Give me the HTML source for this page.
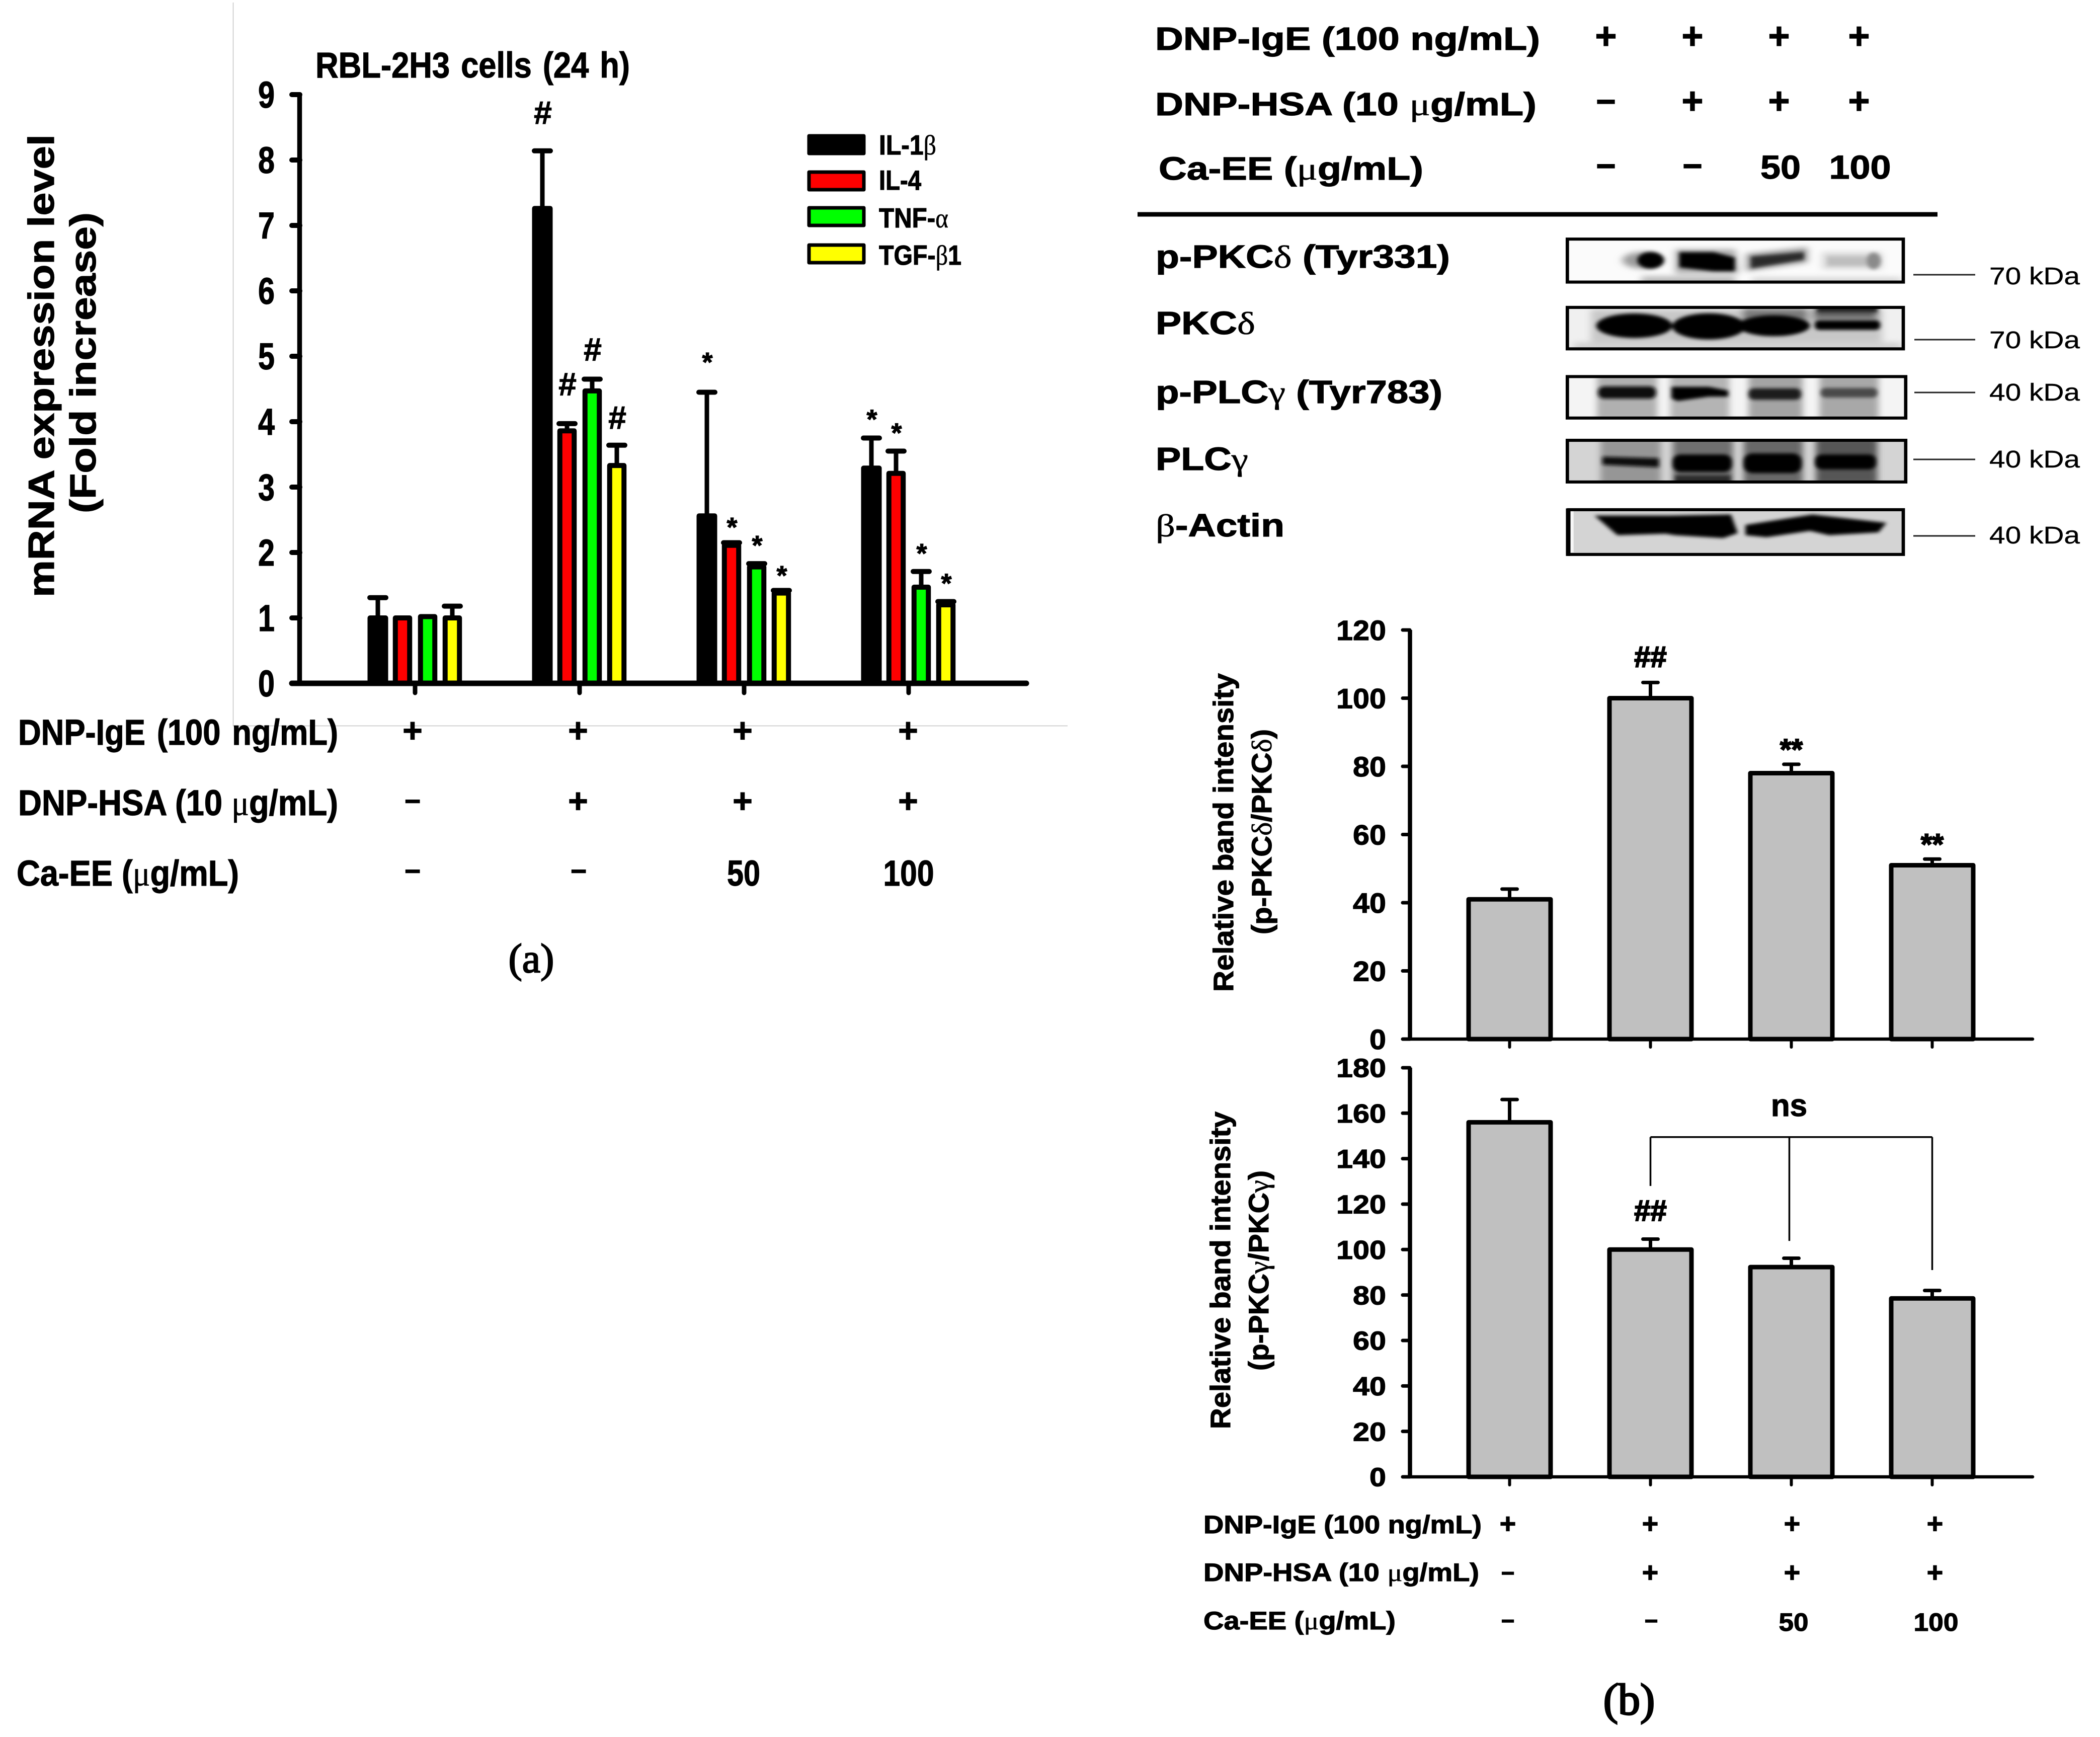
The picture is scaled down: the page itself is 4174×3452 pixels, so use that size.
<!DOCTYPE html>
<html lang="en">
<head>
<meta charset="utf-8">
<title>RBL-2H3 mRNA expression and western blot figure</title>
<style>
html,body{margin:0;padding:0;background:#fff;width:4174px;height:3452px;overflow:hidden}
svg{display:block}
text{font-family:"Liberation Sans",Arial,sans-serif;font-weight:700;fill:#000;stroke:#000;stroke-width:1.2}
.serif{font-family:"Liberation Serif",serif;font-weight:400;stroke-width:.6}
.caption{stroke-width:2.2}
.reg{font-weight:400;stroke-width:.4}
.mid{text-anchor:middle}
</style>
</head>
<body>
<svg id="figure" xmlns="http://www.w3.org/2000/svg" width="4174" height="3452" viewBox="0 0 4174 3452">
<defs>
<filter id="blur1" x="-15%" y="-40%" width="130%" height="180%"><feGaussianBlur stdDeviation="14 13"/></filter>
<filter id="blur2" x="-15%" y="-40%" width="130%" height="180%"><feGaussianBlur stdDeviation="9 8"/></filter>
<filter id="blur3" x="-15%" y="-40%" width="130%" height="180%"><feGaussianBlur stdDeviation="16 12"/></filter>
<clipPath id="clip1"><rect x="32" y="58" width="1396" height="197"/></clipPath>
<clipPath id="clip2"><rect x="32" y="371" width="1396" height="190"/></clipPath>
<clipPath id="clip3"><rect x="32" y="688" width="1406" height="190"/></clipPath>
<clipPath id="clip4"><rect x="32" y="980" width="1406" height="191"/></clipPath>
<clipPath id="clip5"><rect x="32" y="1298" width="1396" height="205"/></clipPath>
</defs>

<rect width="4174" height="3452" fill="#fff"/>
<path d="M463.5 5V1442.5H2122" fill="none" stroke="#c4c4c4" stroke-width="1.5"/>

<!-- Panel A static text -->
<g>
<text x="627" y="154" font-size="71" textLength="625" lengthAdjust="spacingAndGlyphs" style="word-spacing:5px">RBL-2H3 cells (24 h)</text>
<text transform="translate(107 1187) rotate(-90)" font-size="72" textLength="920" lengthAdjust="spacingAndGlyphs">mRNA expression level</text>
<text transform="translate(190 1020) rotate(-90)" font-size="72" textLength="598" lengthAdjust="spacingAndGlyphs">(Fold increase)</text>

<text x="1747" y="307" font-size="55" textLength="114" lengthAdjust="spacingAndGlyphs">IL-1<tspan class="serif">β</tspan></text>
<text x="1747" y="377" font-size="55" textLength="84" lengthAdjust="spacingAndGlyphs">IL-4</text>
<text x="1747" y="452" font-size="55" textLength="138" lengthAdjust="spacingAndGlyphs">TNF-<tspan class="serif">α</tspan></text>
<text x="1747" y="526" font-size="55" textLength="164" lengthAdjust="spacingAndGlyphs">TGF-<tspan class="serif">β</tspan>1</text>

<text x="36" y="1480" font-size="71" textLength="636" lengthAdjust="spacingAndGlyphs" style="word-spacing:6px">DNP-IgE (100 ng/mL)</text>
<text x="36" y="1620" font-size="71" textLength="636" lengthAdjust="spacingAndGlyphs">DNP-HSA (10 <tspan class="serif">μ</tspan>g/mL)</text>
<text x="33" y="1760" font-size="71" textLength="442" lengthAdjust="spacingAndGlyphs">Ca-EE (<tspan class="serif">μ</tspan>g/mL)</text>

<g font-size="68">
<text class="mid" x="820" y="1475">+</text><text class="mid" x="1149" y="1475">+</text><text class="mid" x="1476" y="1475">+</text><text class="mid" x="1805" y="1475">+</text>
</g>
<g font-size="68">
<text class="mid" x="820" y="1611" font-size="55">−</text><text class="mid" x="1149" y="1615">+</text><text class="mid" x="1476" y="1615">+</text><text class="mid" x="1805" y="1615">+</text>
</g>
<g font-size="71">
<text class="mid" x="820" y="1750" font-size="55">−</text><text class="mid" x="1150" y="1750" font-size="55">−</text>
<text class="mid" x="1478" y="1760" textLength="66" lengthAdjust="spacingAndGlyphs">50</text><text class="mid" x="1806" y="1760" textLength="101" lengthAdjust="spacingAndGlyphs">100</text>
</g>
<text class="serif caption mid" x="1056" y="1932" font-size="82">(a)</text>
</g>

<!-- Panel B top header -->
<g>
<text x="2296" y="99" font-size="64" textLength="765" lengthAdjust="spacingAndGlyphs">DNP-IgE (100 ng/mL)</text>
<text x="2296" y="229" font-size="64" textLength="758" lengthAdjust="spacingAndGlyphs">DNP-HSA (10 <tspan class="serif">μ</tspan>g/mL)</text>
<text x="2303" y="357" font-size="64" textLength="526" lengthAdjust="spacingAndGlyphs">Ca-EE (<tspan class="serif">μ</tspan>g/mL)</text>
<g font-size="74">
<text class="mid" x="3192" y="97">+</text><text class="mid" x="3364" y="97">+</text><text class="mid" x="3536" y="97">+</text><text class="mid" x="3695" y="97">+</text>
<text class="mid" x="3192" y="225" font-size="68">−</text><text class="mid" x="3364" y="226">+</text><text class="mid" x="3536" y="226">+</text><text class="mid" x="3695" y="226">+</text>
<text class="mid" x="3192" y="353" font-size="68">−</text><text class="mid" x="3364" y="353" font-size="68">−</text>
</g>
<text class="mid" x="3539" y="355" font-size="66" textLength="80" lengthAdjust="spacingAndGlyphs">50</text>
<text class="mid" x="3697" y="355" font-size="66" textLength="123" lengthAdjust="spacingAndGlyphs">100</text>
<rect x="2261" y="421.5" width="1590" height="9" fill="#000"/>
</g>

<!-- Blot labels -->
<g font-size="64">
<text x="2297" y="532" textLength="585" lengthAdjust="spacingAndGlyphs">p-PKC<tspan class="serif">δ</tspan> (Tyr331)</text>
<text x="2297" y="664" textLength="198" lengthAdjust="spacingAndGlyphs">PKC<tspan class="serif">δ</tspan></text>
<text x="2297" y="801" textLength="570" lengthAdjust="spacingAndGlyphs">p-PLC<tspan class="serif">γ</tspan> (Tyr783)</text>
<text x="2297" y="934" textLength="184" lengthAdjust="spacingAndGlyphs">PLC<tspan class="serif">γ</tspan></text>
<text x="2297" y="1066" textLength="256" lengthAdjust="spacingAndGlyphs"><tspan class="serif">β</tspan>-Actin</text>
</g>

<!-- Blots drawn in a local coordinate frame -->
<g transform="translate(3100 450) scale(.4783 .4337)">
<g>
<rect x="32" y="58" width="1396" height="197" fill="#fbfbfb"/>
<g clip-path="url(#clip1)"><g filter="url(#blur3)">
<rect x="340" y="228" width="390" height="44" fill="#bcbcbc"/>
<rect x="800" y="232" width="620" height="34" fill="#d8d8d8"/>
<ellipse cx="345" cy="155" rx="85" ry="38" fill="#9c9c9c"/>
<path d="M480 105H730L745 215H480Z" fill="#aaaaaa"/>
<path d="M775 125L1030 95V165L775 205Z" fill="#9a9a9a"/>
<rect x="1090" y="118" width="250" height="78" fill="#d8d8d8"/>
</g><g filter="url(#blur2)">
<ellipse cx="378" cy="155" rx="55" ry="38" fill="#000"/>
<path d="M497 118H640L728 142V205H640L497 188Z" fill="#000"/>
<path d="M795 138L1015 118V152L795 192Z" fill="#2c2c2c"/>
<rect x="1112" y="138" width="180" height="42" fill="#bebebe"/>
<ellipse cx="1305" cy="158" rx="30" ry="38" fill="#8a8a8a"/>
</g></g>
<rect x="32" y="58" width="1396" height="197" fill="none" stroke="#000" stroke-width="14"/>
</g>
<g>
<rect x="32" y="371" width="1396" height="190" fill="#f0f0f0"/>
<g clip-path="url(#clip2)"><g filter="url(#blur3)">
<rect x="130" y="380" width="1210" height="150" fill="#c8c8c8"/>
<rect x="760" y="375" width="270" height="60" fill="#7a7a7a"/>
<rect x="1055" y="370" width="265" height="60" fill="#6a6a6a"/>
<rect x="60" y="532" width="1360" height="32" fill="#d0d0d0"/>
</g><g filter="url(#blur2)">
<rect x="1070" y="362" width="250" height="32" fill="#222"/>
<ellipse cx="310" cy="455" rx="158" ry="56" fill="#000"/>
<ellipse cx="620" cy="458" rx="152" ry="60" fill="#000"/>
<ellipse cx="890" cy="455" rx="150" ry="48" fill="#000"/>
<rect x="1060" y="430" width="272" height="44" rx="18" fill="#000"/>
</g></g>
<rect x="32" y="371" width="1396" height="190" fill="none" stroke="#000" stroke-width="14"/>
</g>
<g>
<rect x="32" y="688" width="1406" height="190" fill="#f4f4f4"/>
<g clip-path="url(#clip3)"><g filter="url(#blur1)">
<rect x="155" y="675" width="250" height="215" fill="#b0b0b0"/>
<rect x="460" y="675" width="245" height="215" fill="#b4b4b4"/>
<rect x="785" y="675" width="225" height="215" fill="#a4a4a4"/>
<rect x="1080" y="675" width="245" height="215" fill="#a8a8a8"/>
</g><g filter="url(#blur2)">
<rect x="160" y="733" width="240" height="56" rx="24" fill="#111"/>
<path d="M465 735H620L700 752V780L620 780L490 800L465 788Z" fill="#000"/>
<rect x="785" y="742" width="218" height="52" rx="22" fill="#1c1c1c"/>
<rect x="1085" y="740" width="235" height="44" rx="20" fill="#484848"/>
</g></g>
<rect x="32" y="688" width="1406" height="190" fill="none" stroke="#000" stroke-width="14"/>
</g>
<g>
<rect x="32" y="980" width="1406" height="191" fill="#d4d4d4"/>
<g clip-path="url(#clip4)"><g filter="url(#blur1)">
<rect x="170" y="965" width="250" height="220" fill="#969696"/>
<rect x="470" y="965" width="250" height="220" fill="#707070"/>
<rect x="765" y="965" width="245" height="220" fill="#686868"/>
<rect x="1065" y="965" width="255" height="220" fill="#565656"/>
</g><g filter="url(#blur2)">
<path d="M178 1055L412 1062V1104L178 1092Z" fill="#0c0c0c"/>
<rect x="470" y="1045" width="245" height="80" rx="32" fill="#000"/>
<rect x="765" y="1040" width="240" height="90" rx="36" fill="#000"/>
<rect x="1062" y="1045" width="252" height="68" rx="28" fill="#000"/>
<rect x="480" y="1140" width="230" height="40" fill="#2c2c2c"/>
</g></g>
<rect x="32" y="980" width="1406" height="191" fill="none" stroke="#000" stroke-width="14"/>
</g>
<g>
<rect x="32" y="1298" width="1396" height="205" fill="#d4d4d4"/>
<rect x="44" y="1304" width="14" height="190" fill="#f6f6f6"/>
<g clip-path="url(#clip5)"><g filter="url(#blur2)">
<path d="M145 1325L460 1325L712 1320L740 1405L680 1428L480 1415L440 1408L240 1415Z" fill="#000"/>
<path d="M772 1368L1050 1320L1358 1358L1325 1402L1120 1415L1040 1395L860 1424L772 1415Z" fill="#000"/>
</g></g>
<rect x="38" y="1298" width="1390" height="205" fill="none" stroke="#000" stroke-width="14"/>
<rect x="26" y="1292" width="18" height="218" fill="#000"/>
</g>
</g>

<!-- kDa markers -->
<g stroke="#222" stroke-width="3" fill="none">
<path d="M3803 546H3926M3805 675H3926M3805 780H3926M3803 913H3926M3803 1065H3926"/>
</g>
<g font-size="48">
<text class="reg" x="3954" y="565" textLength="180" lengthAdjust="spacingAndGlyphs">70 kDa</text>
<text class="reg" x="3954" y="692" textLength="180" lengthAdjust="spacingAndGlyphs">70 kDa</text>
<text class="reg" x="3954" y="796" textLength="180" lengthAdjust="spacingAndGlyphs">40 kDa</text>
<text class="reg" x="3954" y="929" textLength="180" lengthAdjust="spacingAndGlyphs">40 kDa</text>
<text class="reg" x="3954" y="1080" textLength="180" lengthAdjust="spacingAndGlyphs">40 kDa</text>
</g>

<!-- Lower charts static text -->
<text transform="translate(2451 1971) rotate(-90)" font-size="56" textLength="633" lengthAdjust="spacingAndGlyphs">Relative band intensity</text>
<text transform="translate(2527 1857) rotate(-90)" font-size="56" textLength="408" lengthAdjust="spacingAndGlyphs">(p-PKC<tspan class="serif">δ</tspan>/PKC<tspan class="serif">δ</tspan>)</text>
<text transform="translate(2445 2840) rotate(-90)" font-size="56" textLength="631" lengthAdjust="spacingAndGlyphs">Relative band intensity</text>
<text transform="translate(2521 2724) rotate(-90)" font-size="56" textLength="398" lengthAdjust="spacingAndGlyphs">(p-PKC<tspan class="serif">γ</tspan>/PKC<tspan class="serif">γ</tspan>)</text>
<text class="mid" x="3556" y="2218" font-size="62">ns</text>

<g>
<text x="2392" y="3047" font-size="50" textLength="553" lengthAdjust="spacingAndGlyphs">DNP-IgE (100 ng/mL)</text>
<text x="2392" y="3142" font-size="50" textLength="548" lengthAdjust="spacingAndGlyphs">DNP-HSA (10 <tspan class="serif">μ</tspan>g/mL)</text>
<text x="2392" y="3238" font-size="50" textLength="382" lengthAdjust="spacingAndGlyphs">Ca-EE (<tspan class="serif">μ</tspan>g/mL)</text>
<g font-size="56">
<text class="mid" x="2997" y="3047">+</text><text class="mid" x="3280" y="3047">+</text><text class="mid" x="3562" y="3047">+</text><text class="mid" x="3846" y="3047">+</text>
<text class="mid" x="2997" y="3142" font-size="46">−</text><text class="mid" x="3280" y="3144">+</text><text class="mid" x="3562" y="3144">+</text><text class="mid" x="3846" y="3144">+</text>
<text class="mid" x="2997" y="3237" font-size="46">−</text><text class="mid" x="3282" y="3237" font-size="46">−</text>
</g>
<text class="mid" x="3565" y="3241" font-size="50" textLength="59" lengthAdjust="spacingAndGlyphs">50</text>
<text class="mid" x="3848" y="3241" font-size="50" textLength="89" lengthAdjust="spacingAndGlyphs">100</text>
</g>
<text class="serif caption mid" x="3238" y="3407" font-size="88" style="stroke-width:3">(b)</text>

<g id="charts"></g>
</svg>

<script>
// ---- Panel A data ----
const treatmentGroups = ['IgE', 'IgE+HSA', 'Ca-EE 50', 'Ca-EE 100'];
const aTickLabels = ['0', '1', '2', '3', '4', '5', '6', '7', '8', '9'];
const il1bValues = [1.0, 7.26, 2.56, 3.29];
const il1bErrors = [0.31, 0.88, 1.89, 0.46];
const il4Values = [1.0, 3.86, 2.11, 3.21];
const il4Errors = [0, 0.11, 0.04, 0.34];
const tnfValues = [1.02, 4.47, 1.78, 1.47];
const tnfErrors = [0, 0.18, 0.05, 0.24];
const tgfValues = [1.0, 3.33, 1.38, 1.2];
const tgfErrors = [0.18, 0.31, 0.04, 0.05];
const il1bMarks = ['', '#', '*', '*'];
const il1bMarkHeights = [0, 8.73, 5.0, 4.13];
const il4Marks = ['', '#', '*', '*'];
const il4MarkHeights = [0, 4.58, 2.48, 3.92];
const tnfMarks = ['', '#', '*', '*'];
const tnfMarkHeights = [0, 5.11, 2.2, 2.08];
const tgfMarks = ['', '#', '*', '*'];
const tgfMarkHeights = [0, 4.07, 1.74, 1.62];
const seriesNames = ['il1b', 'il4', 'tnfa', 'tgfb1'];
const seriesColors = ['#000000', '#ff0000', '#00ff00', '#ffff00'];

// ---- Panel B data ----
const pkcdTickLabels = ['0', '20', '40', '60', '80', '100', '120'];
const pkcdValues = [41, 100, 78, 51];
const pkcdErrors = [3, 4.6, 2.6, 1.8];
const pkcdMarks = ['', '##', '**', '**'];
const pkcdMarkHeights = [0, 112.2, 86.8, 59];
const plcgTickLabels = ['0', '20', '40', '60', '80', '100', '120', '140', '160', '180'];
const plcgValues = [156, 100, 92.3, 78.5];
const plcgErrors = [10, 4.6, 3.9, 3.5];
const plcgMarks = ['', '##', '', ''];
const plcgMarkHeights = [0, 117.3, 0, 0];
const bracketTopValue = 149.5;
const bracketGroups = [1, 2, 3];
const bracketEndValues = [128, 103.8, 91];

const NS = 'http://www.w3.org/2000/svg';
const root = document.getElementById('charts');
function mk(tag, attrs, parent) {
  const e = document.createElementNS(NS, tag);
  for (const k in attrs) e.setAttribute(k, attrs[k]);
  (parent || root).appendChild(e);
  return e;
}
function markBaseline(label, cy, fs) {
  return label.charAt(0) === '#' ? cy + 0.36 * fs : cy + 0.56 * fs;
}

// ---- Panel A axes ----
const ay = v => 1358 - v * 130;
const ax = i => 825 + i * 327;
const seriesOffset = s => [-74, -25, 25, 74][s];

let el = mk('path', {d: 'M595.5 ' + ay(9) + 'V' + ay(0), stroke: '#000', 'stroke-width': 9.5, fill: 'none'});


aTickLabels.forEach((t, i) => {
  const v = Number(t);
  const tick = mk('line', {x1: 580, x2: 596, y1: ay(v), y2: ay(v), stroke: '#000', 'stroke-width': 10, 'stroke-linecap': 'round'});
  
  
  const lab = mk('text', {x: 546, y: ay(v) + 26, 'text-anchor': 'end', 'font-size': 74, textLength: 33, lengthAdjust: 'spacingAndGlyphs'});
  lab.textContent = t;
  
  
});

const aValues = [il1bValues, il4Values, tnfValues, tgfValues];
const aErrors = [il1bErrors, il4Errors, tnfErrors, tgfErrors];
const aMarks = [il1bMarks, il4Marks, tnfMarks, tgfMarks];
const aMarkHeights = [il1bMarkHeights, il4MarkHeights, tnfMarkHeights, tgfMarkHeights];

treatmentGroups.forEach((g, gi) => {
  seriesNames.forEach((name, s) => {
    const c = ax(gi) + seriesOffset(s);
    const val = aValues[s][gi], err = aErrors[s][gi];
    if (err > 0) {
      const stem = mk('line', {x1: c, x2: c, y1: ay(val), y2: ay(val + err), stroke: '#000', 'stroke-width': 9});
      
      
      const cap = mk('line', {x1: c - 16, x2: c + 16, y1: ay(val + err), y2: ay(val + err), stroke: '#000', 'stroke-width': 10, 'stroke-linecap': 'round'});
      
      
    }
    const bw = s === 0 ? 31 : 28.5;
    const bar = mk('rect', {x: c - bw / 2, y: ay(val), width: bw, height: ay(0) - ay(val), fill: seriesColors[s], stroke: '#000', 'stroke-width': 10, 'stroke-linejoin': 'round'});
    
    
    const mark = aMarks[s][gi];
    if (mark) {
      const fs = mark === '#' ? 64 : 54;
      const cy = ay(aMarkHeights[s][gi]);
      const t = mk('text', {x: c + 1, y: markBaseline(mark, cy, fs), 'text-anchor': 'middle', 'font-size': fs});
      t.textContent = mark;
      
      
    }
  });
  const gt = mk('line', {x1: ax(gi), x2: ax(gi), y1: ay(0), y2: 1377, stroke: '#000', 'stroke-width': 9, 'stroke-linecap': 'round'});
  
  
});
el = mk('line', {x1: 580, x2: 2040, y1: ay(0), y2: ay(0), stroke: '#000', 'stroke-width': 11, 'stroke-linecap': 'round'});



// ---- Legend ----
const legendSwatchTops = [0, 72, 143, 217];
seriesNames.forEach((name, s) => {
  const sw = mk('rect', {x: 1608, y: 270 + legendSwatchTops[s], width: 109, height: 35, fill: seriesColors[s], stroke: '#000', 'stroke-width': 7, 'stroke-linejoin': 'round'});
  
  
});

// ---- Grey bar charts ----
const bx = i => 3000.5 + i * 280;
function drawGrey(prefix, y, yZero, yTop, labels, values, errors, marks, heights, tickFs) {
  const axis = mk('line', {x1: 2802.5, x2: 2802.5, y1: yTop, y2: yZero, stroke: '#000', 'stroke-width': 8.5});
  
  
  labels.forEach(t => {
    const v = Number(t);
    const tick = mk('line', {x1: 2788, x2: 2802, y1: y(v), y2: y(v), stroke: '#000', 'stroke-width': 7, 'stroke-linecap': 'round'});
    
    
    const lab = mk('text', {x: 2755, y: y(v) + 0.358 * tickFs, 'text-anchor': 'end', 'font-size': tickFs, textLength: 33 * t.length, lengthAdjust: 'spacingAndGlyphs'});
    lab.textContent = t;
    
    
  });
  values.forEach((val, i) => {
    const c = bx(i), top = val + errors[i];
    const stem = mk('line', {x1: c, x2: c, y1: y(val), y2: y(top), stroke: '#000', 'stroke-width': 7});
    
    
    const cap = mk('line', {x1: c - 15, x2: c + 15, y1: y(top), y2: y(top), stroke: '#000', 'stroke-width': 7, 'stroke-linecap': 'round'});
    
    
    const bar = mk('rect', {x: c - 81.5, y: y(val), width: 163, height: yZero - y(val), fill: '#c0c0c0', stroke: '#000', 'stroke-width': 9, 'stroke-linejoin': 'round'});
    
    
    const gt = mk('line', {x1: c, x2: c, y1: yZero, y2: yZero + 16, stroke: '#000', 'stroke-width': 6, 'stroke-linecap': 'round'});
    
    
    if (marks[i]) {
      const fs = 58;
      const cy = y(heights[i]);
      const m = mk('text', {x: c, y: markBaseline(marks[i], cy, fs), 'text-anchor': 'middle', 'font-size': fs, style: 'stroke-width:2.2'});
      m.textContent = marks[i];
      
      
    }
  });
  const xa = mk('line', {x1: 2789, x2: 4040, y1: yZero, y2: yZero, stroke: '#000', 'stroke-width': 6.5, 'stroke-linecap': 'round'});
  
  
}

const pkcdY = v => 2065 - v * 6.775;
const plcgY = v => 2935 - v * 4.517;
drawGrey('pkcd', pkcdY, pkcdY(0), pkcdY(120), pkcdTickLabels, pkcdValues, pkcdErrors, pkcdMarks, pkcdMarkHeights, 56);
drawGrey('plcg', plcgY, plcgY(0), plcgY(180), plcgTickLabels, plcgValues, plcgErrors, plcgMarks, plcgMarkHeights, 52);

// ---- ns bracket ----
const bracketBar = mk('line', {x1: bx(bracketGroups[0]), x2: bx(bracketGroups[2]), y1: plcgY(bracketTopValue), y2: plcgY(bracketTopValue), stroke: '#000', 'stroke-width': 3.5});


bracketGroups.forEach((g, i) => {
  const x = i === 1 ? bx(g) - 4 : bx(g);
  const drop = mk('line', {x1: x, x2: x, y1: plcgY(bracketTopValue), y2: plcgY(bracketEndValues[i]), stroke: '#000', 'stroke-width': 3.5});
  
  
});
</script>
</body>
</html>
